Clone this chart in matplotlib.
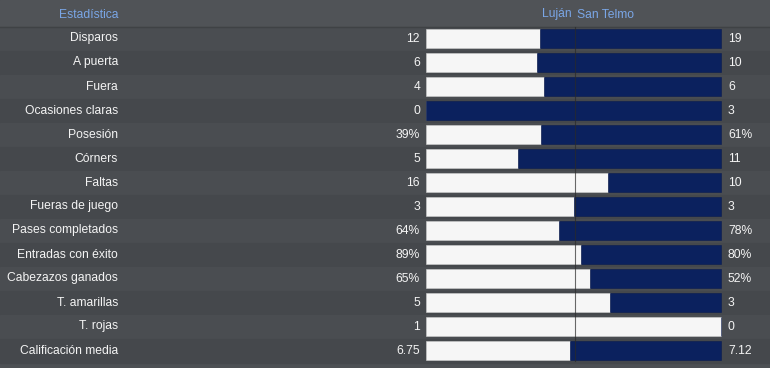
import matplotlib.pyplot as plt

home_team = "Luján"
away_team = "San Telmo"
stats = ["Disparos", "A puerta", "Fuera", "Ocasiones claras", "Posesión", "Córners",
         "Faltas", "Fueras de juego", "Pases completados", "Entradas con éxito",
         "Cabezazos ganados", "T. amarillas", "T. rojas", "Calificación media"]
home_vals = [12, 6, 4, 0, 39, 5, 16, 3, 64, 89, 65, 5, 1, 6.75]
away_vals = [19, 10, 6, 3, 61, 11, 10, 3, 78, 80, 52, 3, 0, 7.12]
home_labels = ["12", "6", "4", "0", "39%", "5", "16", "3", "64%", "89%", "65%", "5", "1", "6.75"]
away_labels = ["19", "10", "6", "3", "61%", "11", "10", "3", "78%", "80%", "52%", "3", "0", "7.12"]

W, H = 770, 368
row_h = 24
first_row = 38.5
bar_x0, bar_w = 426, 295
bar_h = 19.5
navy = "#0b215e"
white = "#f6f6f6"
txt = "#f4f4f4"
blue_txt = "#7aa6e6"
fs = 8.7

fig = plt.figure(figsize=(W / 100, H / 100), dpi=100)
fig.patch.set_facecolor("#4d5054")
ax = fig.add_axes([0, 0, 1, 1])
ax.set_xlim(0, W)
ax.set_ylim(H, 0)
ax.axis("off")

# header band
ax.axhspan(0, 26, color="#505357", zorder=0)
ax.axhline(26.5, color="#3f4245", lw=1, zorder=1)
ax.text(118, 14.5, "Estadística", color=blue_txt, fontsize=fs, ha="right", va="center",
        family="Liberation Sans")
ax.text(572, 14.5, home_team, color=blue_txt, fontsize=fs, ha="right", va="center",
        family="Liberation Sans")
ax.text(577, 14.5, away_team, color=blue_txt, fontsize=fs, ha="left", va="center",
        family="Liberation Sans")

for i, name in enumerate(stats):
    y = first_row + i * row_h
    shade = "#4a4d51" if i % 2 == 0 else "#45484c"
    ax.axhspan(y - row_h / 2, y + row_h / 2, color=shade, zorder=0)
    total = home_vals[i] + away_vals[i]
    frac = home_vals[i] / total if total else 0.5
    ax.barh(y, bar_w * frac, left=bar_x0, height=bar_h, color=white,
            edgecolor="#d0d0d0", lw=0.4, zorder=2)
    ax.barh(y, bar_w * (1 - frac), left=bar_x0 + bar_w * frac, height=bar_h,
            color=navy, edgecolor="#0a1c50", lw=0.4, zorder=2)
    ax.text(118, y, name, color=txt, fontsize=fs, ha="right", va="center",
            family="Liberation Sans")
    ax.text(420, y, home_labels[i], color=txt, fontsize=fs, ha="right", va="center",
            family="Liberation Sans")
    ax.text(728, y, away_labels[i], color=txt, fontsize=fs, ha="left", va="center",
            family="Liberation Sans")

ax.plot([574.5, 574.5], [27, first_row + (len(stats) - 1) * row_h + 10],
        color="#2a2a2a", lw=0.8, alpha=0.7, zorder=3)

fig.savefig("out.png", dpi=100, facecolor=fig.get_facecolor())
